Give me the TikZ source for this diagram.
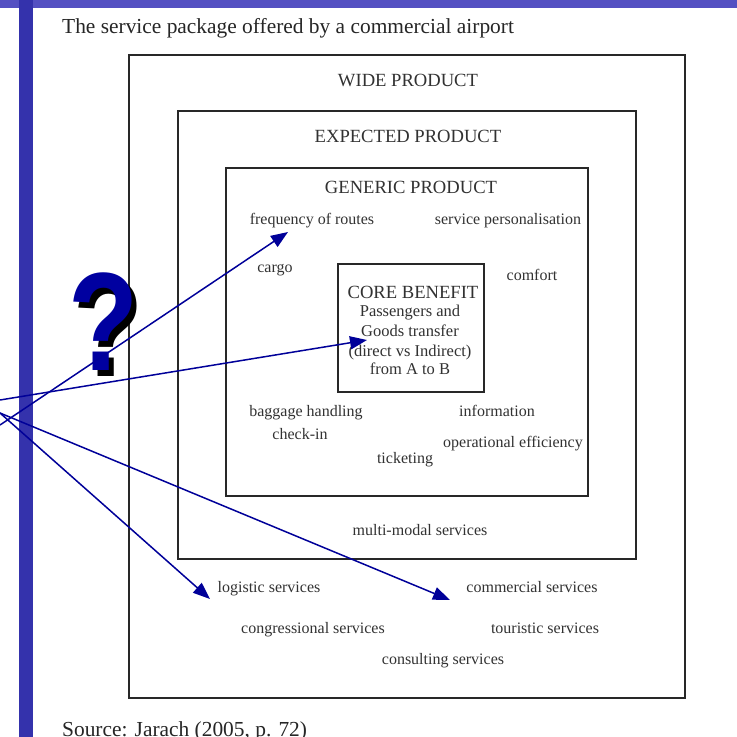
\documentclass[tikz,border=0pt]{standalone}
\usepackage{fontspec}
\setmainfont{Liberation Serif}
\newfontfamily\qfont{Liberation Sans}
\usetikzlibrary{arrows.meta}
\definecolor{slideblue}{RGB}{52,50,172}
\definecolor{bandblue}{RGB}{84,80,194}
\definecolor{arrowblue}{RGB}{0,0,153}
\definecolor{qblue}{RGB}{0,0,160}
\definecolor{boxgray}{RGB}{40,40,40}
\definecolor{txtgray}{RGB}{50,50,50}
\tikzset{
  boxline/.style={draw=boxgray, line width=2.3pt},
  hdr/.style={anchor=base, inner sep=0pt, text=txtgray, font=\fontsize{18.6}{21}\selectfont},
  lbl/.style={anchor=base, inner sep=0pt, text=txtgray, font=\fontsize{16}{18}\selectfont},
  corel/.style={anchor=base, inner sep=0pt, text=txtgray, font=\fontsize{16.5}{19}\selectfont},
  captiontext/.style={anchor=base west, inner sep=0pt, text=black!85, font=\fontsize{21.4}{24}\selectfont},
  qstyle/.style={anchor=base, inner sep=0pt, font=\qfont\bfseries\fontsize{140}{145}\selectfont},
  pointer/.style={draw=arrowblue, line width=1.5pt, -{Triangle[length=17pt,width=13pt]}},
}
\begin{document}
\begin{tikzpicture}[x=1pt,y=-1pt]
\useasboundingbox (0,0) rectangle (737,737);
\clip (0,0) rectangle (737,737);
% slide background
\fill[white] (0,0) rectangle (737,737);
\fill[bandblue] (0,0) rectangle (737,7.5);
\fill[slideblue] (19,0) rectangle (33,737);
% boxes
\draw[boxline] (129,55) rectangle (685,698);
\draw[boxline] (178,111) rectangle (636,559);
\draw[boxline] (226,168) rectangle (588,496);
\draw[boxline] (338,264) rectangle (484,392);
% captions
\node[captiontext] (title) at (62,33) {The service package offered by a commercial airport};
\node[captiontext] (source) at (62,736) {Source: Jarach (2005, p. 72)};
% headers
\node[hdr] (wide) at (408,86) {WIDE PRODUCT};
\node[hdr] (expected) at (408,142) {EXPECTED PRODUCT};
\node[hdr] (generic) at (411,193) {GENERIC PRODUCT};
% core
\node[hdr] (core) at (413,298) {CORE BENEFIT};
\node[corel] (core1) at (410,316) {Passengers and};
\node[corel] (core2) at (410,336) {Goods transfer};
\node[corel] (core3) at (410,356) {(direct vs Indirect)};
\node[corel] (core4) at (410,374) {from A to B};
% generic labels
\node[lbl] (freq) at (312,224) {frequency of routes};
\node[lbl] (pers) at (508,224) {service personalisation};
\node[lbl] (cargo) at (275,272) {cargo};
\node[lbl] (comfort) at (532,280) {comfort};
\node[lbl] (baggage) at (306,416) {baggage handling};
\node[lbl] (info) at (497,416) {information};
\node[lbl] (checkin) at (300,439) {check-in};
\node[lbl] (opeff) at (513,447) {operational efficiency};
\node[lbl] (ticket) at (405,463) {ticketing};
% expected labels
\node[lbl] (multi) at (420,535) {multi-modal services};
% wide labels
\node[lbl] (logistic) at (269,592) {logistic services};
\node[lbl] (commercial) at (532,592) {commercial services};
\node[lbl] (congress) at (313,633) {congressional services};
\node[lbl] (touristic) at (545,633) {touristic services};
\node[lbl] (consulting) at (443,664) {consulting services};
% question mark
\node[qstyle, text=black] (qshadow) at (108.5,376) {\scalebox{0.82}[1]{?}};
\node[qstyle, text=qblue] (qmark) at (104,370) {\scalebox{0.82}[1]{?}};
% pointer arrows
\coordinate (s1) at (0,400);
\coordinate (s2) at (0,425);
\coordinate (s3) at (0,413);
\coordinate (tcore) at (367,340);
\coordinate (tfreq) at (288,232);
\coordinate (tlog) at (210,599);
\coordinate (tcom) at (450,600);
\draw[pointer] (s1) -- (tcore);
\draw[pointer] (s2) -- (tfreq);
\draw[pointer] (s3) -- (tlog);
\draw[pointer] (s3) -- (tcom);
\end{tikzpicture}
\end{document}
